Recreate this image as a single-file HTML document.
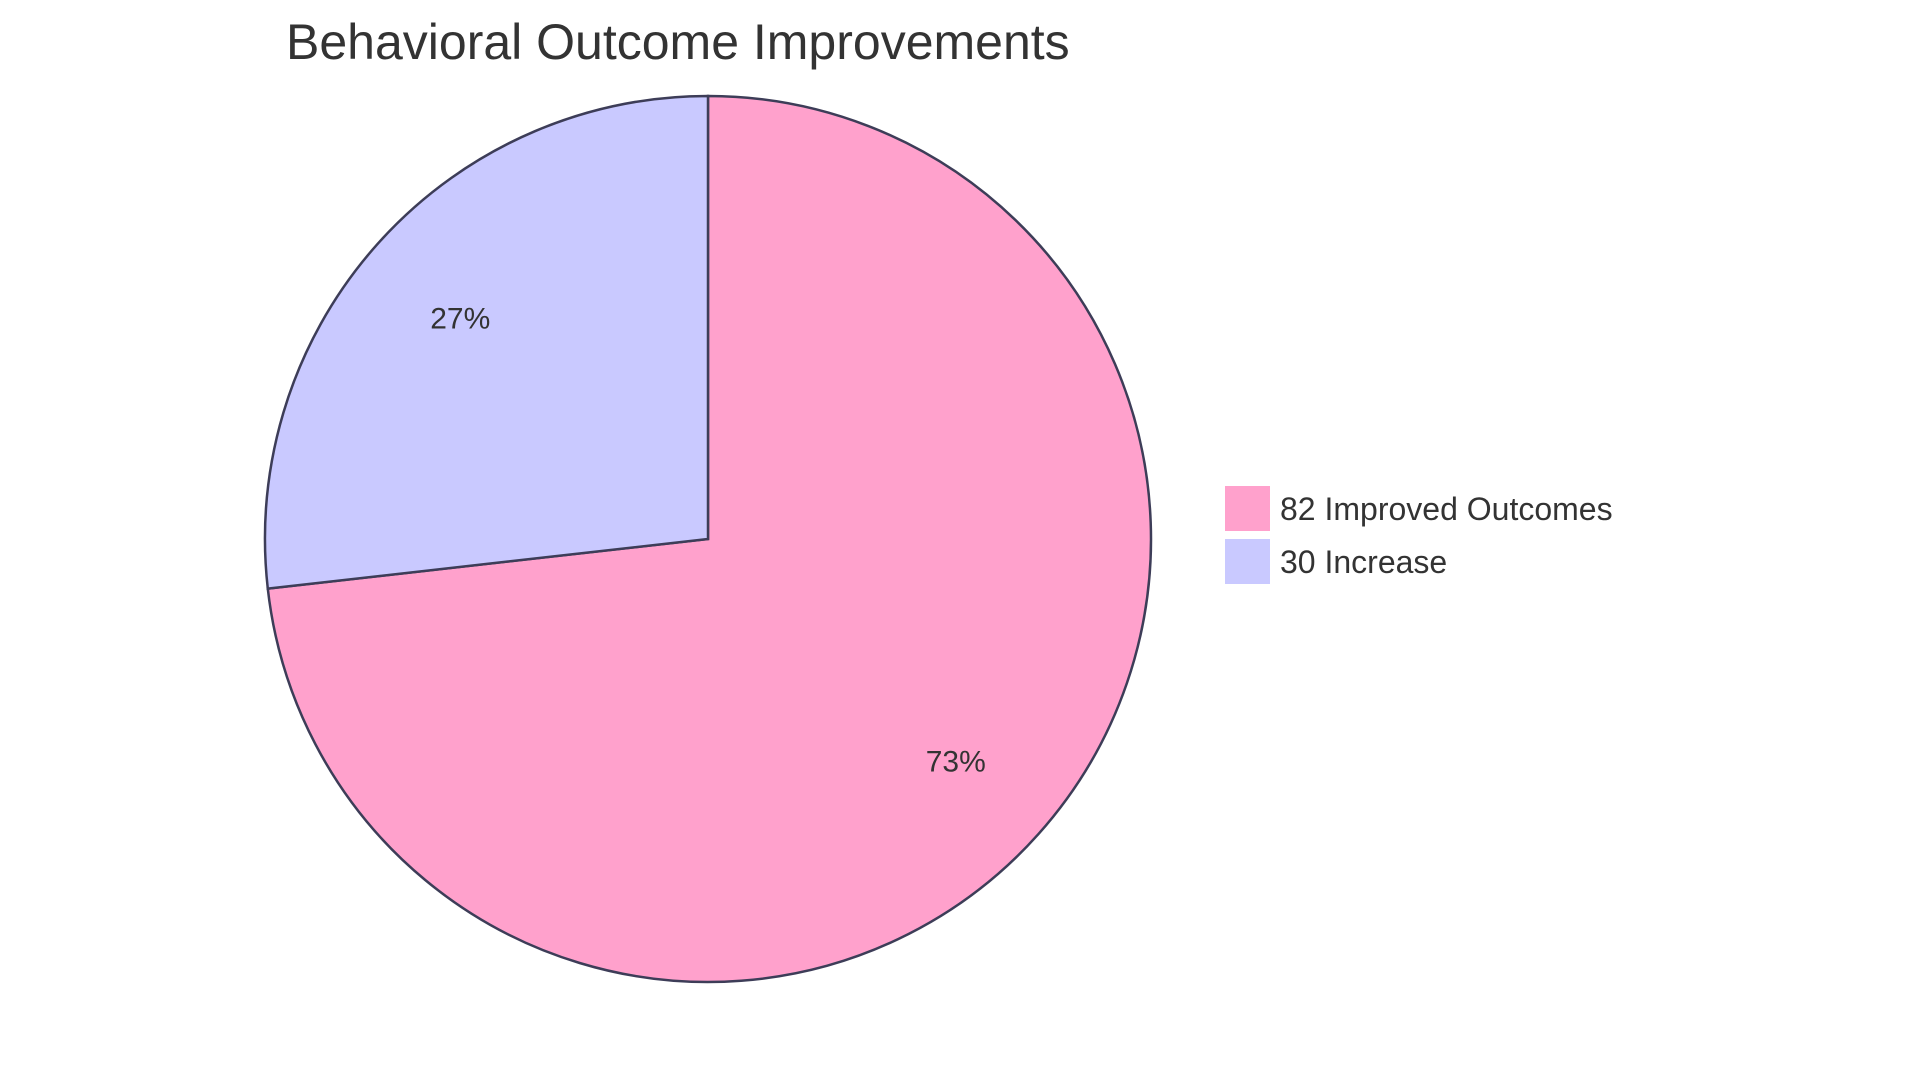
<!DOCTYPE html>
<html><head><meta charset="utf-8"><style>
body{margin:0;background:#fff;}
svg{display:block;font-family:"Liberation Sans",sans-serif;}
</style></head><body>
<svg id="chart" width="1920" height="1083" viewBox="0 0 1920 1083">
<text x="286" y="59" font-size="50" fill="#333">Behavioral Outcome Improvements</text>
<g id="slices"></g>
<g id="legend"></g>
</svg>
<script>
const labels = ["82 Improved Outcomes", "30 Increase"];
const values = [82, 30];
const colors = ["#ffa1cc", "#c9c9ff"];
const cx = 708, cy = 539, r = 443;
const ns = "http://www.w3.org/2000/svg";
const total = values.reduce((a,b)=>a+b,0);
const g = document.getElementById('slices');
const lg = document.getElementById('legend');
let a0 = 0;
values.forEach((v,i)=>{
  const a1 = a0 + v/total*2*Math.PI;
  const p = (a)=>[cx + r*Math.sin(a), cy - r*Math.cos(a)];
  const [x0,y0]=p(a0),[x1,y1]=p(a1);
  const large = (a1-a0)>Math.PI?1:0;
  const path=document.createElementNS(ns,'path');
  path.setAttribute('d',`M${cx},${cy} L${x0},${y0} A${r},${r} 0 ${large} 1 ${x1},${y1} Z`);
  path.setAttribute('fill',colors[i]);
  path.setAttribute('stroke','#3d3d58');
  path.setAttribute('stroke-width','2.5');
  
  
  g.appendChild(path);
  const am=(a0+a1)/2, lr=r*0.75;
  const t=document.createElementNS(ns,'text');
  t.setAttribute('x',cx+lr*Math.sin(am));
  t.setAttribute('y',cy-lr*Math.cos(am)+11);
  t.setAttribute('text-anchor','middle');
  t.setAttribute('font-size','30');
  t.setAttribute('fill','#333');
  t.textContent=Math.round(v/total*100)+'%';
  
  
  g.appendChild(t);
  const rect=document.createElementNS(ns,'rect');
  rect.setAttribute('x',1225);rect.setAttribute('y',486+i*53);
  rect.setAttribute('width',45);rect.setAttribute('height',45);
  rect.setAttribute('fill',colors[i]);
  
  
  lg.appendChild(rect);
  const lt=document.createElementNS(ns,'text');
  lt.setAttribute('x',1280);lt.setAttribute('y',520+i*53);
  lt.setAttribute('font-size','32');lt.setAttribute('fill','#333');
  lt.textContent=labels[i];
  
  
  lg.appendChild(lt);
  a0=a1;
});
</script>
</body></html>
